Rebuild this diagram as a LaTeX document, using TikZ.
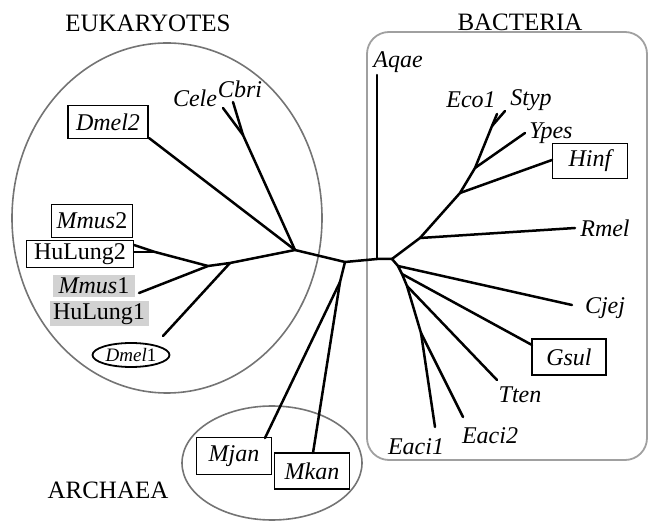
\documentclass[tikz,border=0pt]{standalone}
\usepackage{fontspec}
\setmainfont{Liberation Serif}
\usetikzlibrary{shapes.geometric}
\definecolor{grpgray}{HTML}{747474}
\definecolor{bacgray}{HTML}{A0A0A0}
\definecolor{hlgray}{HTML}{D2D2D2}
\begin{document}
\begin{tikzpicture}[x=1pt,y=-1pt,
  br/.style={line width=2.5pt, line cap=round, line join=round},
  grp/.style={draw=grpgray, line width=1.6pt},
  grptext/.style={font=\fontsize{25}{25}\selectfont, inner sep=0pt},
  lbl/.style={font=\fontsize{24}{24}\selectfont\itshape, inner sep=0pt},
  tipbox/.style={draw, line width=1.8pt, inner sep=0pt, font=\fontsize{24}{24}\selectfont\itshape},
  hlbox/.style={fill=hlgray, inner sep=0pt, font=\fontsize{24}{24}\selectfont}
]
\useasboundingbox (0,0) rectangle (649,521);

% group outlines
\draw[grp] (167,218) ellipse [x radius=155, y radius=175];
\draw[grp] (272,463) ellipse [x radius=90, y radius=57];
\draw[draw=bacgray, line width=1.8pt, rounded corners=22pt] (367,32) rectangle (647,460);

\node[grptext] (eukt) at (148,23) {EUKARYOTES};
\node[grptext] (bact) at (520,22) {BACTERIA};
\node[grptext] (arct) at (108,490) {ARCHAEA};

% internal nodes
\coordinate (A) at (295,250);
\coordinate (B) at (345,262);
\coordinate (C) at (377,259);
\coordinate (D) at (392,259);
\coordinate (cc) at (243,135);
\coordinate (F) at (230,263);
\coordinate (E) at (208,266);
\coordinate (hj) at (155,252);
\coordinate (G) at (340,282);
\coordinate (H) at (420,238);
\coordinate (I) at (460,193);
\coordinate (J) at (475,168);
\coordinate (K) at (492,126);
\coordinate (P1) at (398,266);
\coordinate (P2) at (402,274);
\coordinate (P3) at (407,286);
\coordinate (P4) at (421,333);

% tips
\coordinate (tcele) at (223,108);
\coordinate (tcbri) at (233,102);
\coordinate (tdmel2) at (149,138);
\coordinate (tmmus2) at (134,245);
\coordinate (thul2) at (134,252);
\coordinate (tmmus1) at (139,293);
\coordinate (tdmel1) at (163,336);
\coordinate (tmjan) at (265,438);
\coordinate (tmkan) at (313,453);
\coordinate (taqae) at (377,75);
\coordinate (trmel) at (575,228);
\coordinate (thinf) at (552,160);
\coordinate (types) at (525,133);
\coordinate (teco) at (497,114);
\coordinate (tstyp) at (505,111);
\coordinate (tcjej) at (572,305);
\coordinate (tgsul) at (532,345);
\coordinate (ttten) at (497,380);
\coordinate (teaci1) at (435,427);
\coordinate (teaci2) at (463,417);

% labels
\node[lbl] (cele) at (195,98) {Cele};
\node[lbl] (cbri) at (240,89) {Cbri};
\node[tipbox, minimum width=80pt, minimum height=33pt] (dmel2) at (108,122) {Dmel2};
\node[hlbox, minimum width=82pt, minimum height=22pt] (mmus1) at (94,286) {\textit{Mmus}1};
\node[hlbox, minimum width=99pt, minimum height=25pt] (hul1) at (99,314) {HuLung1};
\node[draw, line width=1.8pt, ellipse, minimum width=77pt, minimum height=24pt, inner sep=0pt,
      font=\fontsize{19}{19}\selectfont] (dmel1) at (131,355) {\textit{Dmel}1};
\node[tipbox, minimum width=81pt, minimum height=33pt] (mmus2) at (92,221) {Mmus\upshape2};
\node[tipbox, fill=white, minimum width=107pt, minimum height=27pt, font=\fontsize{24}{24}\selectfont\upshape] (hul2) at (80,254) {HuLung2};
\node[tipbox, minimum width=75pt, minimum height=37pt] (mjan) at (234,456) {Mjan};
\node[tipbox, fill=white, minimum width=75pt, minimum height=36pt] (mkan) at (312,471) {Mkan};
\node[lbl] (aqae) at (398,62) {Aqae};
\node[lbl] (eco) at (471,100) {Eco1};
\node[lbl] (styp) at (531,100) {Styp};
\node[lbl] (ypes) at (551,133) {Ypes};
\node[tipbox, minimum width=75pt, minimum height=35pt] (hinf) at (590,161) {Hinf};
\node[lbl] (rmel) at (605,228) {Rmel};
\node[lbl] (cjej) at (605,308) {Cjej};
\node[tipbox, minimum width=74pt, minimum height=36pt] (gsul) at (569,357) {Gsul};
\node[lbl] (tten) at (520,395) {Tten};
\node[lbl] (eaci2) at (490,436) {Eaci2};
\node[lbl] (eaci1) at (416,447) {Eaci1};

% branches
\draw[br] (A) -- (B) -- (C) -- (D);
\draw[br] (A) -- (cc) -- (tcele);
\draw[br] (cc) -- (tcbri);
\draw[br] (A) -- (tdmel2);
\draw[br] (A) -- (F) -- (E) -- (hj) -- (tmmus2);
\draw[br] (hj) -- (thul2);
\draw[br] (E) -- (tmmus1);
\draw[br] (F) -- (tdmel1);
\draw[br] (B) -- (G) -- (tmjan);
\draw[br] (G) -- (tmkan);
\draw[br] (C) -- (taqae);
\draw[br] (D) -- (H) -- (I) -- (J) -- (K) -- (teco);
\draw[br] (K) -- (tstyp);
\draw[br] (J) -- (types);
\draw[br] (I) -- (thinf);
\draw[br] (H) -- (trmel);
\draw[br] (D) -- (P1) -- (P2) -- (P3) -- (P4) -- (teaci1);
\draw[br] (P4) -- (teaci2);
\draw[br] (P3) -- (ttten);
\draw[br] (P2) -- (tgsul);
\draw[br] (P1) -- (tcjej);
\end{tikzpicture}
\end{document}
